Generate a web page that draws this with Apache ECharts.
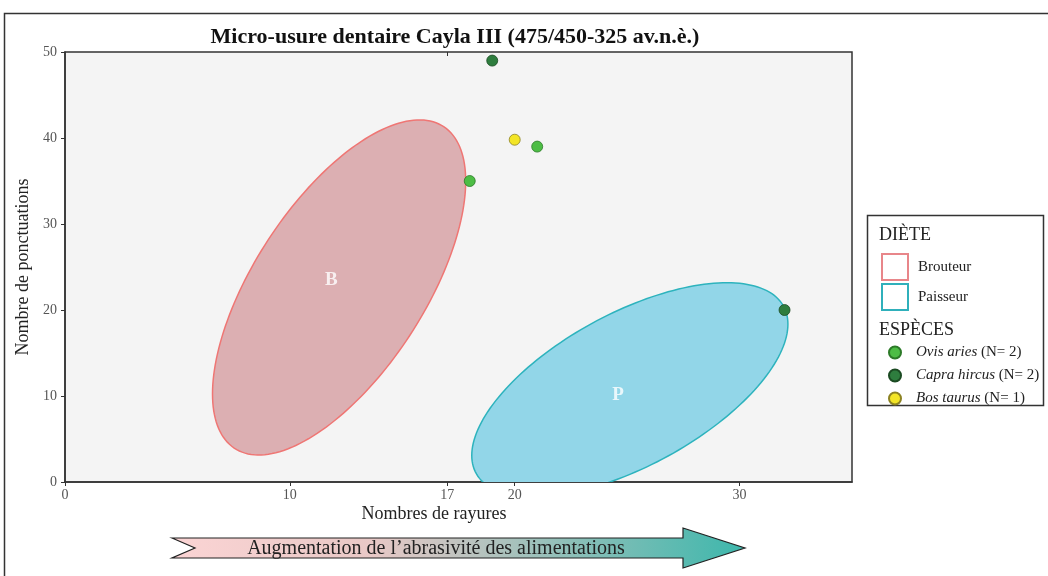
<!DOCTYPE html>
<html>
<head>
<meta charset="utf-8">
<script src="https://cdn.jsdelivr.net/npm/echarts@6/dist/echarts.min.js"></script>
<style>
	html, body { margin: 0; padding: 0; background: #fff; }
	#chart { width: 1048px; height: 576px; }
</style>
</head>
<body>
<div id="chart"></div>
<script>
	// ticks
	var xTicks = [0, 10, 17, 20, 30];
	var yTicks = [0, 10, 20, 30, 40, 50];

	// ellipses: [centre x, centre y, half width, half height, correlation]
	var brouteur = [12.19, 22.62, 5.63, 19.48, 0.635];
	var paisseur = [25.12, 10.72, 7.03, 12.45, 0.613];
	var dietLabels = [['B', 11.85, 23.5], ['P', 24.6, 10.1]];

	// individus
	var ovisAries = [[18, 35], [21, 39]];
	var capraHircus = [[19, 49], [32, 20]];
	var bosTaurus = [[20, 39.8]];

	var serif = '"Liberation Serif", "DejaVu Serif", serif';

	function renderEllipse(params, api) {
		var cx = api.value(0), cy = api.value(1);
		var sx = api.value(2), sy = api.value(3);
		var d = Math.acos(api.value(4));
		var pts = [];
		for (var i = 0; i < 180; i++) {
			var t = i / 180 * Math.PI * 2;
			pts.push(api.coord([cx + sx * Math.cos(t), cy + sy * Math.cos(t - d)]));
		}
		var cs = params.coordSys;
		return {
			type: 'polygon',
			shape: { points: pts },
			style: api.style(),
			clipPath: {
				type: 'rect',
				shape: { x: cs.x, y: cs.y, width: cs.width, height: cs.height }
			}
		};
	}

	function pointSeries(name, data, color, border) {
		return {
			name: name,
			type: 'scatter',
			data: data,
			symbolSize: 11,
			z: 5,
			itemStyle: { color: color, borderColor: border, borderWidth: 0.8, opacity: 1 }
		};
	}

	var chart = echarts.init(document.getElementById('chart'));

	var option = {
		backgroundColor: '#fff',
		animation: false,
		title: {
			text: 'Micro-usure dentaire Cayla III (475/450-325 av.n.è.)',
			left: 450,
			top: 21,
			textAlign: 'center',
			textStyle: { fontFamily: serif, fontSize: 22, fontWeight: 'bold', color: '#111' }
		},
		grid: {
			left: 65, right: 196, top: 52, bottom: 94,
			show: true,
			backgroundColor: '#f4f4f4',
			borderColor: '#333',
			borderWidth: 1.5
		},
		xAxis: [{
			type: 'value',
			min: 0, max: 35,
			splitLine: { show: false },
			axisLine: { lineStyle: { color: '#333', width: 1.5 } },
			axisTick: { length: 4, customValues: xTicks, lineStyle: { color: '#333' } },
			axisLabel: { customValues: xTicks, margin: 6, color: '#555', fontSize: 14, fontFamily: serif }
		}, {
			type: 'value',
			position: 'top',
			min: 0, max: 35,
			splitLine: { show: false },
			axisLine: { show: false },
			axisTick: { inside: true, length: 4, customValues: [17], lineStyle: { color: '#333' } },
			axisLabel: { show: false }
		}],
		yAxis: {
			type: 'value',
			min: 0, max: 50, interval: 10,
			name: 'Nombre de ponctuations',
			nameLocation: 'middle',
			nameGap: 28,
			nameTextStyle: { fontFamily: serif, fontSize: 18, color: '#222' },
			splitLine: { show: false },
			axisLine: { lineStyle: { color: '#333', width: 1.5 } },
			axisTick: { length: 4, lineStyle: { color: '#333' } },
			axisLabel: { margin: 8, color: '#555', fontSize: 14, fontFamily: serif }
		},
		legend: [{
			orient: 'vertical',
			left: 876, top: 248,
			itemWidth: 26, itemHeight: 26, itemGap: 2,
			selectedMode: false,
			data: [
				{ name: 'Brouteur', icon: 'rect', itemStyle: { color: '#fff', borderColor: '#e8868a', borderWidth: 2 } },
				{ name: 'Paisseur', icon: 'rect', itemStyle: { color: '#fff', borderColor: '#2fb0bb', borderWidth: 2 } }
			],
			textStyle: { fontFamily: serif, fontSize: 15, color: '#222', padding: [0, 0, 0, 5] }
		}, {
			orient: 'vertical',
			left: 883, top: 340,
			itemWidth: 16, itemHeight: 12, itemGap: 8,
			icon: 'circle',
			selectedMode: false,
			data: ['Ovis aries', 'Capra hircus', 'Bos taurus'],
			formatter: function (name) {
				var n = { 'Ovis aries': ovisAries.length, 'Capra hircus': capraHircus.length, 'Bos taurus': bosTaurus.length }[name];
				return '{i|' + name + '} (N= ' + n + ')';
			},
			textStyle: {
				fontFamily: serif, fontSize: 15, color: '#222', padding: [0, 0, 0, 8],
				rich: { i: { fontFamily: serif, fontSize: 15, fontStyle: 'italic', color: '#222' } }
			}
		}],
		graphic: [
			// cadre de la figure
			{ type: 'rect', z: -10, shape: { x: 4.5, y: 13.5, width: 1100, height: 600 }, style: { fill: 'none', stroke: '#333', lineWidth: 1.5 } },
			// cadre de la légende
			{ type: 'rect', z: -1, shape: { x: 867.5, y: 215.5, width: 176, height: 190 }, style: { fill: '#fff', stroke: '#333', lineWidth: 1.5 } },
			{ type: 'text', left: 879, top: 226, style: { text: 'DIÈTE', fontFamily: serif, fontSize: 18, fill: '#222' } },
			{ type: 'text', left: 879, top: 321, style: { text: 'ESPÈCES', fontFamily: serif, fontSize: 18, fill: '#222' } },
			// titre axe x
			{ type: 'text', x: 434, y: 514, style: { text: 'Nombres de rayures', fontFamily: serif, fontSize: 18, fill: '#222', align: 'center', verticalAlign: 'middle' } },
			// flèche
			{
				type: 'polygon',
				shape: { points: [[172, 538], [195, 548], [172, 558], [683, 558], [683, 568], [745, 548], [683, 528], [683, 538]] },
				style: {
					fill: new echarts.graphic.LinearGradient(0, 0, 1, 0, [
						{ offset: 0, color: '#fbd4d4' },
						{ offset: 0.35, color: '#e8c8c6' },
						{ offset: 1, color: '#3db7ac' }
					]),
					stroke: '#222',
					lineWidth: 1.2
				}
			},
			{ type: 'text', x: 436, y: 549, style: { text: 'Augmentation de l\u2019abrasivité des alimentations', fontFamily: serif, fontSize: 20, fill: '#222', align: 'center', verticalAlign: 'middle' } }
		],
		series: [{
			name: 'Brouteur',
			type: 'custom',
			renderItem: renderEllipse,
			data: [brouteur],
			z: 2,
			itemStyle: { color: '#dcafb2', borderColor: '#ef7674', borderWidth: 1.5 }
		}, {
			name: 'Paisseur',
			type: 'custom',
			renderItem: renderEllipse,
			data: [paisseur],
			z: 2,
			itemStyle: { color: '#92d6e8', borderColor: '#2db3bd', borderWidth: 1.5 }
		}, {
			name: 'labels',
			type: 'scatter',
			silent: true,
			symbolSize: 0,
			z: 4,
			data: dietLabels.map(function (d) { return { name: d[0], value: [d[1], d[2]] }; }),
			label: {
				show: true,
				position: 'inside',
				formatter: '{b}',
				color: '#fff',
				fontFamily: serif,
				fontWeight: 'bold',
				fontSize: 19
			}
		},
			pointSeries('Ovis aries', ovisAries, '#4dbd45', '#2c7a28'),
			pointSeries('Capra hircus', capraHircus, '#2e7d3e', '#1b4a22'),
			pointSeries('Bos taurus', bosTaurus, '#f3e526', '#8c8222')
		]
	};

	chart.setOption(option);
</script>
</body>
</html>
